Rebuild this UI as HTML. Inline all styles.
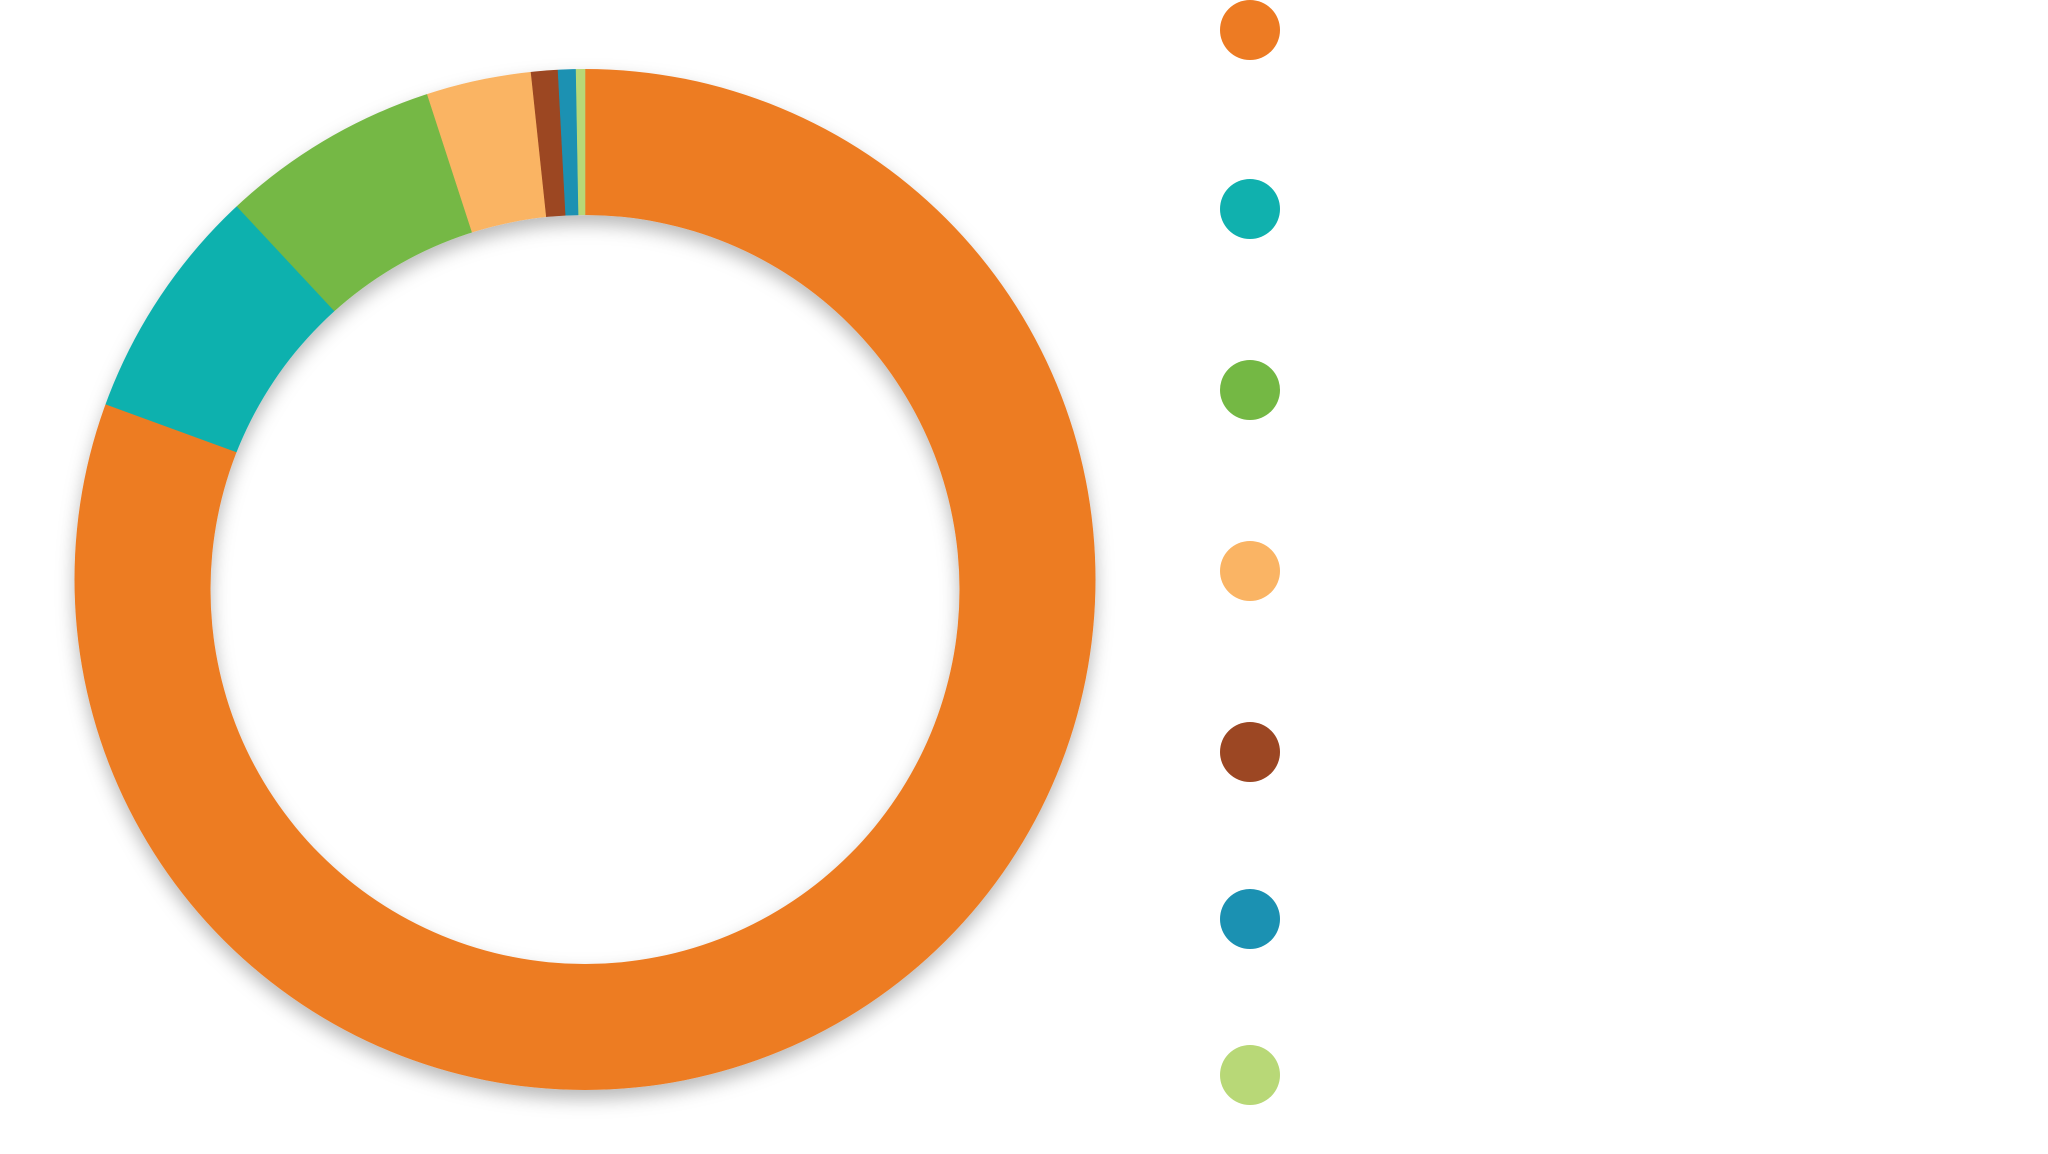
<!DOCTYPE html>
<html><head><meta charset="utf-8"><style>html,body{margin:0;padding:0;background:#fff}svg{display:block}</style></head>
<body>
<svg width="2048" height="1154" viewBox="0 0 2048 1154" xmlns="http://www.w3.org/2000/svg">
<defs>
<filter id="sh" x="-10%" y="-10%" width="120%" height="125%">
<feGaussianBlur in="SourceAlpha" stdDeviation="9"/>
<feOffset dx="0" dy="9" result="b"/>
<feFlood flood-color="#000" flood-opacity="0.28"/>
<feComposite in2="b" operator="in" result="s"/>
<feMerge><feMergeNode in="s"/><feMergeNode in="SourceGraphic"/></feMerge>
</filter>
<mask id="ring" maskUnits="userSpaceOnUse" x="0" y="0" width="2048" height="1154">
<rect width="2048" height="1154" fill="#000"/>
<circle cx="585" cy="579.5" r="510.5" fill="#fff"/>
<circle cx="585" cy="589.5" r="374.5" fill="#000"/>
</mask>
</defs>
<g filter="url(#sh)">
<g id="w" mask="url(#ring)"></g>
</g>
<circle cx="1250" cy="30" r="30" fill="#ED7B23"/>
<circle cx="1250" cy="209" r="30" fill="#10B1AE"/>
<circle cx="1250" cy="390" r="30" fill="#74B844"/>
<circle cx="1250" cy="571" r="30" fill="#FAB464"/>
<circle cx="1250" cy="752" r="30" fill="#9C4723"/>
<circle cx="1250" cy="919" r="30" fill="#1B91B2"/>
<circle cx="1250" cy="1075" r="30" fill="#B8D877"/>
</svg>
<script>
(function(){
var segs=[[0,290.1,"#ED7B23"],[290.1,317.0,"#10B1AE"],[317.0,342.0,"#74B844"],[342.0,353.93,"#FAB464"],[353.93,356.97,"#9C4723"],[356.97,359.0,"#1B91B2"],[359.0,360,"#B8D877"]];
var cx=585,cy=579.5,R=540,g=document.getElementById("w"),ns="http://www.w3.org/2000/svg";
function p(a){var r=a*Math.PI/180;return [cx+R*Math.sin(r),cy-R*Math.cos(r)];}
segs.forEach(function(s){var a=p(s[0]),b=p(s[1]),l=(s[1]-s[0])>180?1:0;
var e=document.createElementNS(ns,"path");
e.setAttribute("d","M"+cx+","+cy+" L"+a[0]+","+a[1]+" A"+R+","+R+" 0 "+l+" 1 "+b[0]+","+b[1]+" Z");
e.setAttribute("fill",s[2]);e.setAttribute("stroke",s[2]);e.setAttribute("stroke-width","0.6");g.appendChild(e);});
})();
</script>
</body></html>
